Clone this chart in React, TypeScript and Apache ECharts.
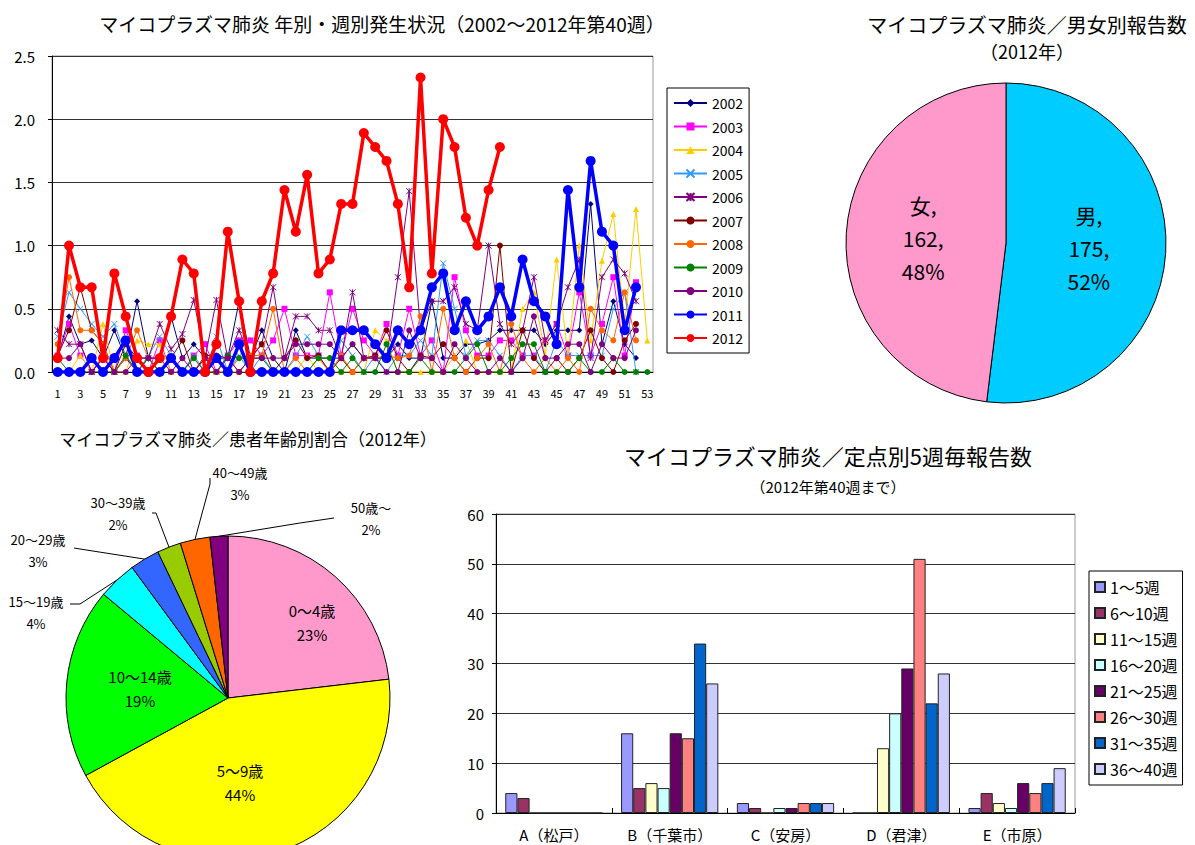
import React, { useEffect, useRef } from 'react';
import * as echarts from 'echarts';

const FONT = '"Noto Sans CJK JP", "Noto Sans", sans-serif';

const weeks = ['1','2','3','4','5','6','7','8','9','10','11','12','13','14','15','16','17','18','19','20','21','22','23','24','25','26','27','28','29','30','31','32','33','34','35','36','37','38','39','40','41','42','43','44','45','46','47','48','49','50','51','52','53'];

const years = ['2002','2003','2004','2005','2006','2007','2008','2009','2010','2011','2012'];

const y2002 = [0.11,0.44,0.22,0.25,0.11,0.33,0.11,0.56,0.11,0.11, 0.44,0.11,0.22,0.11,0.11,0.11,0.56,0.11,0.33,0.11, 0,0.33,0.11,0.11,0.11,0.11,0.22,0.11,0.11,0.11, 0.22,0.11,0.11,0.56,0.11,0.11,0.22,0.22,0.25,0.33, 0.33,0.33,0.33,0.22,0.33,0.33,0.33,1.33,0.22,0.56, 0.22,0.11];
const y2003 = [0.13,0.38,0.13,0,0.13,0,0.33,0.13,0,0.25, 0,0,0.13,0.22,0,0.13,0.25,0.25,0.13,0.25, 0.5,0.13,0.13,0.13,0.63,0.13,0.5,0.25,0.13,0.38, 0.13,0.5,0.13,0.25,0,0.75,0.33,0.13,0.13,0.25, 0.25,0.13,0.13,0.25,0.38,0.13,0.63,0.13,0.38,0.75, 0.13,0.71];
const y2004 = [0,0,0.13,0,0.38,0,0,0.25,0.22,0.22, 0,0,0,0,0,0,0,0,0,0, 0,0,0.13,0,0,0,0,0,0.33,0.25, 0,0,0,0,0,0.13,0.25,0,0,0, 0,0.5,0.63,0.13,0.89,0.13,1.0,0.25,0.88,1.25, 0.38,1.29,0.25];
const y2005 = [0.28,0.63,0.5,0.38,0.28,0.38,0.13,0,0.13,0.28, 0.13,0,0.13,0,0.28,0,0.13,0,0.13,0, 0,0.13,0.28,0.13,0,0.25,0.13,0,0.13,0, 0.13,0.13,0.25,0.13,0.86,0.5,0.13,0.25,0.25,0.13, 0,0.13,0.13,0,0.25,0.13,0.13,0.13,0.13,0.5, 0.63,0];
const y2006 = [0.33,0.22,0.22,0,0.11,0,0.11,0,0.11,0.38, 0.18,0.3,0.57,0.11,0.57,0.11,0.33,0.11,0.22,0.67, 0.11,0.44,0.44,0.33,0.33,0.11,0.63,0.11,0.11,0.11, 0.75,1.43,0.33,0.56,0.56,0.67,0.38,0.33,1.0,0.38, 0.22,0.33,0.75,0.25,0.38,0.67,0.89,0.11,0.75,0.89, 0.78,0.56];
const y2007 = [0.13,0.33,0.67,0.33,0.22,0,0.22,0.11,0.11,0, 0.11,0.25,0,0.13,0.13,0.11,0,0.11,0.22,0, 0.11,0.25,0.11,0.13,0,0.11,0,0.11,0.13,0.33, 0.11,0,0.13,0.11,0.22,0.11,0,0.11,0.11,1.0, 0,0.33,0.11,0,0.11,0,0.11,0.33,0.11,0, 0.25,0.38];
const y2008 = [0.22,0.75,0.33,0.33,0.22,0,0.11,0.33,0.11,0, 0.11,0,0,0.11,0,0,0.11,0.13,0.13,0.5, 0,0.11,0,0.11,0,0.13,0,0.11,0.11,0.13, 0.11,0.13,0.44,0,0.5,0.11,0,0.11,0.22,0, 0.38,0.11,0,0.11,0,0.11,0,0.5,0.33,0.25, 0.63,0.25];
const y2009 = [0.11,0,0,0,0,0,0.13,0,0.11,0, 0.11,0,0.11,0,0,0.13,0.11,0.11,0.11,0, 0,0,0,0.11,0.11,0,0.11,0,0,0.22, 0,0,0.11,0,0,0,0.11,0.22,0,0, 0.11,0.22,0.22,0,0,0,0.11,0,0,0.11, 0,0,0];
const y2010 = [0.11,0.11,0.22,0,0.11,0,0,0.11,0.11,0.11, 0,0.11,0,0.11,0,0.11,0,0.11,0.11,0.11, 0.11,0.22,0.22,0.22,0.22,0.11,0.22,0.11,0.11,0, 0,0.33,0.11,0.11,0,0.22,0.11,0,0,0.11, 0,0.11,0.44,0.11,0.11,0.22,0.22,0,0.22,0.11, 0.11,0.33];
const y2011 = [0,0,0,0.11,0,0.11,0.25,0,0,0, 0.11,0,0,0,0.11,0,0.22,0,0,0, 0,0,0,0,0,0.33,0.33,0.33,0.22,0.11, 0.33,0.22,0.33,0.67,0.78,0.33,0.56,0.33,0.44,0.67, 0.44,0.89,0.56,0.44,0.22,1.44,0.67,1.67,1.11,1.0, 0.33,0.67];
const y2012 = [0.11,1.0,0.67,0.67,0.11,0.78,0.44,0.11,0,0.11, 0.44,0.89,0.78,0,0.22,1.11,0.56,0,0.56,0.78, 1.44,1.11,1.56,0.78,0.89,1.33,1.33,1.89,1.78,1.67, 1.33,0.67,2.33,0.78,2.0,1.78,1.22,1.0,1.44,1.78];

const yearValues = [y2002, y2003, y2004, y2005, y2006, y2007, y2008, y2009, y2010, y2011, y2012];

const genderNames = ['男', '女'];
const genderValues = [175, 162];

const ageNames = ['0～4歳', '5～9歳', '10～14歳', '15～19歳', '20～29歳', '30～39歳', '40～49歳', '50歳～'];
const ageValues = [78, 148, 64, 13, 10, 8, 10, 6];

const sites = ['A（松戸）', 'B（千葉市）', 'C（安房）', 'D（君津）', 'E（市原）'];
const periods = ['1～5週', '6～10週', '11～15週', '16～20週', '21～25週', '26～30週', '31～35週', '36～40週'];
const p1_5 = [4, 16, 2, 0, 1];
const p6_10 = [3, 5, 1, 0, 4];
const p11_15 = [0, 6, 0, 13, 2];
const p16_20 = [0, 5, 1, 20, 1];
const p21_25 = [0, 16, 1, 29, 6];
const p26_30 = [0, 15, 2, 51, 4];
const p31_35 = [0, 34, 2, 22, 6];
const p36_40 = [0, 26, 2, 28, 9];
const periodValues = [p1_5, p6_10, p11_15, p16_20, p21_25, p26_30, p31_35, p36_40];

const yearColors = ['#000080', '#FF00FF', '#FFCC00', '#3399FF', '#800080', '#800000', '#FF6600', '#008000', '#800080', '#0000FF', '#FF0000'];
const XSYM = 'path://M0,0L10,10M10,0L0,10';
const STAR = 'path://M0,0L10,10M10,0L0,10M5,0L5,10';
const yearSymbols = ['diamond', 'rect', 'triangle', XSYM, STAR, 'circle', 'circle', 'circle', 'circle', 'circle', 'circle'];
const periodColors = ['#9999FF', '#993366', '#FFFFCC', '#CCFFFF', '#660066', '#FF8080', '#0066CC', '#CCCCFF'];
const ageColors = ['#FF99CC', '#FFFF00', '#00FF00', '#00FFFF', '#3366FF', '#99CC00', '#FF6600', '#800080'];
const genderColors = ['#00CCFF', '#FF99CC'];

// label layout (text centres and leader-line ends) for the age pie
const ageInside = new Set(['0～4歳', '5～9歳', '10～14歳']);
const ageLabelPos: number[][] = [[312, 622], [240, 782], [140, 688], [36, 612], [38, 550], [118, 513], [240, 483], [371, 518]];
const ageLineEnd: (number[] | null)[] = [null, null, null, [70, 604], [74, 548], [152, 513], [210, 478], [334, 518]];
const ageLineElbow: (number[] | null)[] = [null, null, null, [80, 604], [80, 549], [156, 513], [210, 484], [300, 523]];

const AGE_CX = 228;
const AGE_CY = 698;
const AGE_R = 162;

export default function App() {
  const ref = useRef<HTMLDivElement>(null);
  useEffect(() => {
    document.body.style.margin = '0';
    const chart = echarts.init(ref.current!, null, { renderer: 'svg' });

    const ageTotal = ageValues.reduce((a, b) => a + b, 0);
    const ageMidAngles: number[] = [];
    let acc = 0;
    ageValues.forEach((v) => {
      ageMidAngles.push(((acc + v / 2) / ageTotal) * Math.PI * 2);
      acc += v;
    });

    const lineSeries = years.map((y, i) => {
      const big = i >= 9;
      const path = typeof yearSymbols[i] === 'string' && (yearSymbols[i] as string).startsWith('path');
      return {
        type: 'line',
        name: y,
        xAxisIndex: 0,
        yAxisIndex: 0,
        data: yearValues[i],
        symbol: yearSymbols[i],
        showAllSymbol: true,
        symbolSize: big ? 10 : 6,
        lineStyle: { color: yearColors[i], width: big ? 3.5 : 1 },
        itemStyle: { color: yearColors[i], borderColor: yearColors[i], borderWidth: path ? 1 : 0 },
        z: 2 + i,
        emphasis: { disabled: true },
      };
    });

    const barSeries = periods.map((p, i) => ({
      type: 'bar',
      name: p,
      xAxisIndex: 1,
      yAxisIndex: 1,
      data: periodValues[i],
      barGap: '0%',
      barCategoryGap: '16%',
      itemStyle: { color: periodColors[i], borderColor: '#222', borderWidth: 1 },
      emphasis: { disabled: true },
    }));

    const titleStyle = (size: number) => ({ fontSize: size, fontWeight: 'normal', color: '#000', fontFamily: FONT });

    const option: any = {
      animation: false,
      textStyle: { fontFamily: FONT, color: '#000' },
      title: [
        { text: 'マイコプラズマ肺炎 年別・週別発生状況（2002～2012年第40週）', left: 377, top: 9, textAlign: 'center', textStyle: titleStyle(19) },
        { text: 'マイコプラズマ肺炎／男女別報告数', left: 1022, top: 9, textAlign: 'center', textStyle: titleStyle(20) },
        { text: '（2012年）', left: 1022, top: 37, textAlign: 'center', textStyle: titleStyle(18) },
        { text: 'マイコプラズマ肺炎／患者年齢別割合（2012年）', left: 243, top: 425, textAlign: 'center', textStyle: titleStyle(17) },
        { text: 'マイコプラズマ肺炎／定点別5週毎報告数', left: 823, top: 439, textAlign: 'center', textStyle: titleStyle(22) },
        { text: '（2012年第40週まで）', left: 823, top: 474, textAlign: 'center', textStyle: titleStyle(15) },
      ],
      legend: [
        {
          data: years,
          orient: 'vertical',
          left: 667,
          top: 88,
          padding: [8, 6, 8, 6],
          itemWidth: 33,
          itemHeight: 10,
          itemGap: 9.5,
          borderColor: '#000',
          borderWidth: 1,
          textStyle: { fontSize: 14, lineHeight: 14, fontFamily: FONT, color: '#000' },
          selectedMode: false,
        },
        {
          data: periods,
          orient: 'vertical',
          left: 1089,
          top: 571,
          padding: [8, 5, 8, 5],
          itemWidth: 10,
          itemHeight: 10,
          itemGap: 10,
          icon: 'rect',
          borderColor: '#000',
          borderWidth: 1,
          textStyle: { fontSize: 16, lineHeight: 14, fontFamily: FONT, color: '#000' },
          selectedMode: false,
        },
      ],
      grid: [
        { left: 52, top: 56, width: 601, height: 316, show: true, borderColor: '#999', borderWidth: 1, containLabel: false },
        { left: 496, top: 514, width: 579, height: 299, show: true, borderColor: '#999', borderWidth: 1, containLabel: false },
      ],
      xAxis: [
        {
          type: 'category', gridIndex: 0, data: weeks, boundaryGap: true,
          axisLine: { lineStyle: { color: '#000' } },
          axisTick: { show: false },
          axisLabel: { interval: 1, fontSize: 11, margin: 15, color: '#000', fontFamily: FONT },
        },
        {
          type: 'category', gridIndex: 1, data: sites, boundaryGap: true,
          axisLine: { lineStyle: { color: '#000' } },
          axisTick: { show: true, inside: true, length: 5, lineStyle: { color: '#000' } },
          axisLabel: { fontSize: 15, margin: 14, color: '#000', fontFamily: FONT },
        },
      ],
      yAxis: [
        {
          type: 'value', gridIndex: 0, min: 0, max: 2.5, interval: 0.5,
          axisLine: { show: true, lineStyle: { color: '#000' } },
          axisTick: { show: true, length: 4, lineStyle: { color: '#000' } },
          axisLabel: { fontSize: 15, margin: 17, color: '#000', fontFamily: FONT, formatter: (v: number) => v.toFixed(1) },
          splitLine: { lineStyle: { color: '#333', width: 1 } },
        },
        {
          type: 'value', gridIndex: 1, min: 0, max: 60, interval: 10,
          axisLine: { show: true, lineStyle: { color: '#000' } },
          axisTick: { show: true, length: 4, lineStyle: { color: '#000' } },
          axisLabel: { fontSize: 15, margin: 12, color: '#000', fontFamily: FONT },
          splitLine: { lineStyle: { color: '#333', width: 1 } },
        },
      ],
      series: [
        ...lineSeries,
        ...barSeries,
        {
          type: 'pie',
          name: 'gender',
          center: [1006, 243],
          radius: 160,
          startAngle: 90,
          clockwise: true,
          data: genderNames.map((n, i) => ({ name: n, value: genderValues[i], itemStyle: { color: genderColors[i] } })),
          itemStyle: { borderColor: '#000', borderWidth: 1 },
          label: {
            show: true,
            position: 'inside',
            fontSize: 21,
            lineHeight: 33,
            color: '#000',
            fontFamily: FONT,
            formatter: (p: any) => `${p.name},\n${p.value},\n${Math.round(p.percent)}%`,
          },
          labelLine: { show: false },
          emphasis: { disabled: true },
        },
        {
          type: 'pie',
          name: 'age',
          center: [AGE_CX, AGE_CY],
          radius: AGE_R,
          startAngle: 90,
          clockwise: true,
          data: ageNames.map((n, i) => ({
            name: n,
            value: ageValues[i],
            itemStyle: { color: ageColors[i] },
            label: ageInside.has(n) ? { position: 'inside', fontSize: 15, lineHeight: 24 } : { position: 'outside', fontSize: 13, lineHeight: 22 },
            labelLine: { show: !ageInside.has(n) },
          })),
          itemStyle: { borderColor: '#000', borderWidth: 1 },
          label: {
            show: true,
            color: '#000',
            fontFamily: FONT,
            overflow: 'none',
            width: 120,
            formatter: (p: any) => `${p.name}\n${Math.round(p.percent)}%`,
          },
          labelLine: { show: true, length: 10, length2: 10, lineStyle: { color: '#000', width: 1 } },
          labelLayout: (p: any) => {
            const i = p.dataIndex;
            const pos = ageLabelPos[i];
            const out: any = { x: pos[0], y: pos[1], align: 'center', verticalAlign: 'middle' };
            const end = ageLineEnd[i];
            const elbow = ageLineElbow[i];
            if (end && elbow) {
              const a = ageMidAngles[i];
              const edge = [AGE_CX + AGE_R * Math.sin(a), AGE_CY - AGE_R * Math.cos(a)];
              out.labelLinePoints = [edge, elbow, end];
            }
            return out;
          },
          emphasis: { disabled: true },
        },
      ],
    };
    chart.setOption(option);
    return () => chart.dispose();
  }, []);
  return <div ref={ref} style={{ width: 1195, height: 845 }} />;
}
